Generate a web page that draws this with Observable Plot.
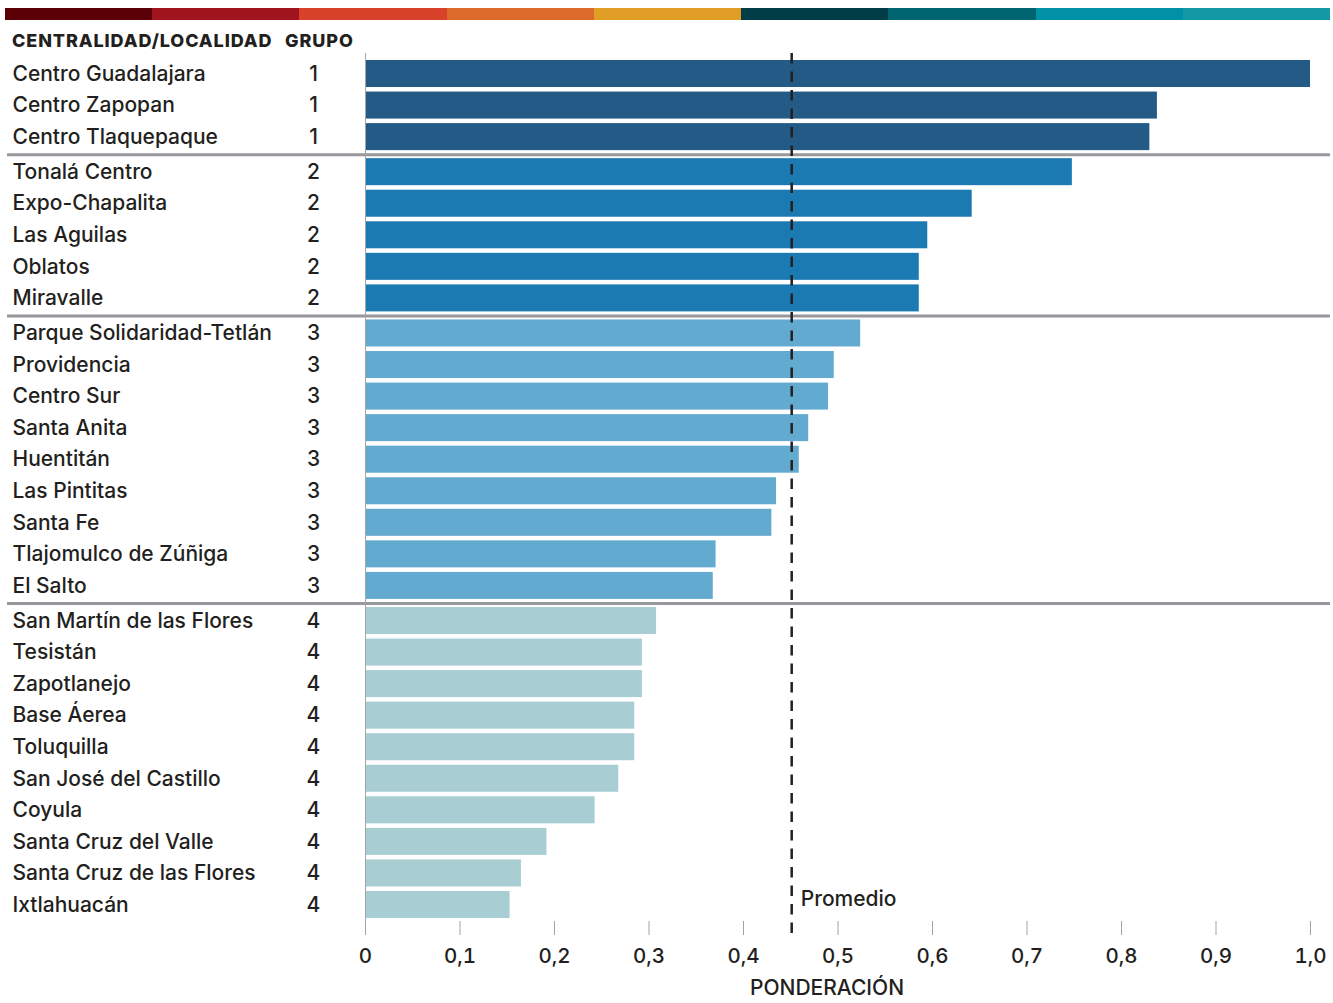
<!DOCTYPE html>
<html>
<head>
<meta charset="utf-8">
<script src="https://cdn.jsdelivr.net/npm/d3@7"></script>
<script src="https://cdn.jsdelivr.net/npm/@observablehq/plot@0.6"></script>
<style>
  body { margin: 0; background: #fff; }
  #wrap { position: relative; width: 1333px; height: 1003px; font-family: Inter, "Noto Sans", sans-serif; color: #231f20; }
  #strip { position: absolute; left: 5px; top: 8px; width: 1325px; height: 12px; display: flex; }
  #strip div { flex: 1; }
  .hdr { position: absolute; top: 30px; font-weight: 800; font-size: 18px; line-height: 22px; letter-spacing: 0.9px; }
  #chart { position: absolute; left: 0; top: 0; }
</style>
</head>
<body>
<div id="wrap">
  <div id="chart"></div>
  <div id="strip"></div>
  <div class="hdr" style="left:12px">CENTRALIDAD/LOCALIDAD</div>
  <div class="hdr" style="left:285px">GRUPO</div>
</div>
<script>
// ---- data ----
const names = [
  "Centro Guadalajara", "Centro Zapopan", "Centro Tlaquepaque",
  "Tonalá Centro", "Expo-Chapalita", "Las Aguilas", "Oblatos", "Miravalle",
  "Parque Solidaridad-Tetlán", "Providencia", "Centro Sur", "Santa Anita", "Huentitán",
  "Las Pintitas", "Santa Fe", "Tlajomulco de Zúñiga", "El Salto",
  "San Martín de las Flores", "Tesistán", "Zapotlanejo", "Base Áerea", "Toluquilla",
  "San José del Castillo", "Coyula", "Santa Cruz del Valle", "Santa Cruz de las Flores", "Ixtlahuacán"
];
const groups = [
  1, 1, 1,
  2, 2, 2, 2, 2,
  3, 3, 3, 3, 3, 3, 3, 3, 3,
  4, 4, 4, 4, 4, 4, 4, 4, 4, 4
];
const values = [
  1.000, 0.838, 0.830,
  0.748, 0.642, 0.595, 0.586, 0.586,
  0.524, 0.496, 0.490, 0.469, 0.459, 0.435, 0.430, 0.371, 0.368,
  0.308, 0.293, 0.293, 0.285, 0.285, 0.268, 0.243, 0.192, 0.165, 0.153
];
const promedio = 0.451;
const groupColors = ["#235a86", "#1c7ab3", "#62aad0", "#a8cdd3"];
const stripColors = ["#5b0006", "#a0151d", "#d9422a", "#dc6a2a", "#e09e27", "#003d47", "#006471", "#0091a7", "#1299a5"];
const xTicks = [0, 0.1, 0.2, 0.3, 0.4, 0.5, 0.6, 0.7, 0.8, 0.9, 1.0];

// ---- top colour strip ----
const strip = document.getElementById("strip");
stripColors.forEach(c => { const d = document.createElement("div"); d.style.background = c; strip.appendChild(d); });

// ---- rows (small extra gap between groups) ----
const GAP = 0.111;
const HALF = 0.428;
const rows = names.map((name, i) => ({
  name, group: groups[i], value: values[i], pos: i + GAP * (groups[i] - 1)
}));
const boundaries = [];
for (let i = 1; i < rows.length; i++) {
  if (rows[i].group !== rows[i - 1].group) boundaries.push((rows[i].pos + rows[i - 1].pos) / 2);
}
const fmt = d => d === 0 ? "0" : d.toFixed(1).replace(".", ",");
const ink = "#231f20";

const chart = Plot.plot({
  width: 1333,
  height: 1003,
  marginLeft: 365,
  marginRight: 23,
  marginTop: 53,
  marginBottom: 82,
  style: { fontFamily: "Inter, 'Noto Sans', sans-serif", color: ink, background: "transparent" },
  x: { domain: [0, 1] },
  y: { type: "linear", domain: [0, rows[rows.length - 1].pos], range: [73.5, 904.5], axis: null },
  marks: [
    Plot.rect(rows, {
      x1: 0, x2: "value",
      y1: d => d.pos - HALF, y2: d => d.pos + HALF,
      fill: d => groupColors[d.group - 1]
    }),
    Plot.ruleY(boundaries, { stroke: "#98979c", strokeWidth: 3, insetLeft: -358, insetRight: -20 }),
    Plot.ruleX([0], { stroke: "#a3a3a3", strokeWidth: 1, insetBottom: -14 }),
    Plot.ruleX([promedio], { stroke: ink, strokeWidth: 2.5, strokeDasharray: "10.5,8", insetBottom: -14 }),
    Plot.axisX({
      ticks: xTicks, tickFormat: fmt, tickSize: 14, tickPadding: 13,
      fontSize: 20.5, fontWeight: 500, stroke: "#a3a3a3", fill: ink, label: null
    }),
    Plot.text(rows, {
      y: "pos", text: "name", frameAnchor: "left", dx: -353,
      textAnchor: "start", fontSize: 21, fontWeight: 500, fill: ink, letterSpacing: "0.4px"
    }),
    Plot.text(rows, {
      y: "pos", text: d => String(d.group), frameAnchor: "left", dx: -52,
      textAnchor: "middle", fontSize: 21, fontWeight: 500, fill: ink
    }),
    Plot.text(["Promedio"], {
      x: promedio, frameAnchor: "bottom", dx: 9, dy: -16,
      textAnchor: "start", fontSize: 21, fontWeight: 500, fill: ink, letterSpacing: "0.3px"
    }),
    Plot.text(["PONDERACIÓN"], {
      frameAnchor: "bottom", dx: -11, dy: 73, fontSize: 21, fontWeight: 500, fill: ink,
      letterSpacing: "1.3px"
    })
  ]
});
document.getElementById("chart").appendChild(chart);
</script>
</body>
</html>
